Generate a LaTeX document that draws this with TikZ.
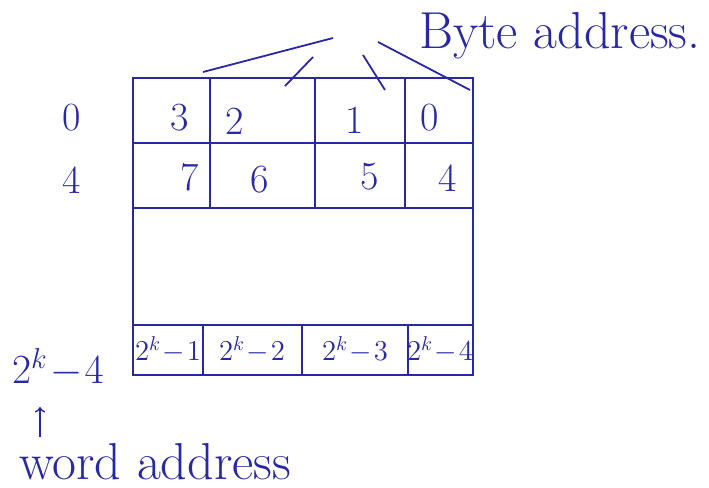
\documentclass[tikz,border=0pt]{standalone}
\usepackage{tikz}
\usepackage{xcolor}
\definecolor{ink}{RGB}{40,40,165}

\begin{document}
\begin{tikzpicture}[x=0.5pt,y=-0.5pt,line width=0.9,draw=ink,text=ink,
  every node/.style={font=\fontsize{20}{24}\selectfont},
  lbl/.style={font=\fontsize{26}{30}\selectfont},
  small/.style={font=\fontsize{14}{16}\selectfont,inner sep=0}]
			\useasboundingbox (0,0) rectangle (709,488);
			\coordinate (tl) at (133,78);
			\coordinate (br) at (473,375);
			\draw[] (tl) rectangle (br);
			\draw[] (133,143)--(473,143);
			\draw[] (133,208)--(473,208);
			\draw[] (133,325)--(473,325);
			\foreach \x in {210,315,405} \draw[] (\x,78)--(\x,208);
			\foreach \x in {203,302,408} \draw[] (\x,325)--(\x,375);
			\node (b3) at (180,118) {3};
			\node (b2) at (235,121) {2};
			\node (b1) at (355,120) {1};
			\node (b0) at (430,118) {0};
			\node (b7) at (190,177) {7};
			\node (b6) at (260,180) {6};
			\node (b5) at (370,177) {5};
			\node (b4) at (448,178) {4};
			\node[small] (e1) at (168,350) {$2^k\!-\!1$};
			\node[small] (e2) at (252,350) {$2^k\!-\!2$};
			\node[small] (e3) at (355,350) {$2^k\!-\!3$};
			\node[small] (e4) at (440,350) {$2^k\!-\!4$};
			\node (w0) at (72,118) {0};
			\node (w4) at (72,180) {4};
			\node (wk) at (58,368) {$2^k\!-\!4$};
			\node[lbl] (word) at (155,462) {word address};
			\coordinate (wtail) at (40,437);
			\coordinate (whead) at (40,407);
			\draw[->] (wtail)--(whead);
			\node[lbl] (byte) at (560,36) {Byte address.};
			\coordinate (h1) at (333,38);
			\coordinate (h2) at (313,57);
			\coordinate (h3) at (363,55);
			\coordinate (h4) at (378,42);
			\coordinate (t3) at (203,72);
			\coordinate (t2) at (285,86);
			\coordinate (t1) at (385,90);
			\coordinate (t0) at (470,90);
			\draw[] (h1)--(t3);
			\draw[] (h2)--(t2);
			\draw[] (h3)--(t1);
			\draw[] (h4)--(t0);
		\end{tikzpicture}
\end{document}
